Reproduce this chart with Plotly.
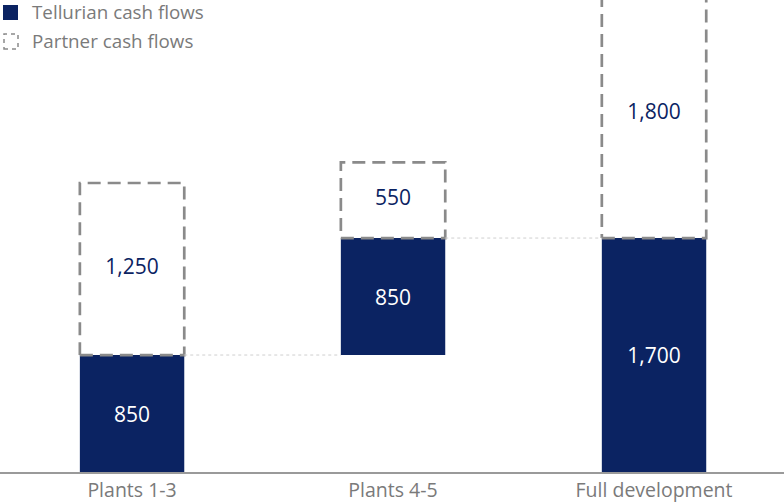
import plotly.graph_objects as go

categories = ["Plants 1-3", "Plants 4-5", "Full development"]
tellurian_base = [0, 850, 0]
tellurian_vals = [850, 850, 1700]
partner_vals = [1250, 550, 1800]
tellurian_labels = ["850", "850", "1,700"]
partner_labels = ["1,250", "550", "1,800"]

NAVY = "#0b2362"
GRAY = "#8a8a8a"
TXT = "#7a7a7a"
FONT = "Open Sans"
W = 0.4

xs = list(range(len(categories)))
partner_base = [b + v for b, v in zip(tellurian_base, tellurian_vals)]

fig = go.Figure()
fig.add_trace(go.Bar(
    x=xs, y=tellurian_vals, base=tellurian_base, width=W,
    marker=dict(color=NAVY, line=dict(width=0)),
    text=tellurian_labels, textposition="inside", insidetextanchor="middle",
    textfont=dict(color="white", size=21, family=FONT),
    showlegend=False, hoverinfo="skip"))

# dashed outlines for partner cash flows
px, py = [], []
for i, (b, v) in enumerate(zip(partner_base, partner_vals)):
    t = b + v
    px += [i - W / 2, i + W / 2, i + W / 2, i - W / 2, i - W / 2, None]
    py += [b, b, t, t, b, None]
fig.add_trace(go.Scatter(x=px, y=py, mode="lines",
                         line=dict(color=GRAY, width=2.7, dash="13px,7px"),
                         showlegend=False, hoverinfo="skip"))
fig.add_trace(go.Scatter(
    x=xs, y=[b + v / 2 for b, v in zip(partner_base, partner_vals)],
    mode="text", text=partner_labels,
    textfont=dict(color=NAVY, size=21, family=FONT),
    showlegend=False, hoverinfo="skip"))

# dotted connectors
for i in range(len(categories) - 1):
    lvl = tellurian_base[i] + tellurian_vals[i]
    fig.add_trace(go.Scatter(x=[i + W / 2, i + 1 - W / 2], y=[lvl, lvl], mode="lines",
                             line=dict(color="#cfcfcf", width=1, dash="dot"),
                             showlegend=False, hoverinfo="skip"))

# legend
fig.add_shape(type="rect", xref="paper", yref="paper",
              x0=3 / 784, x1=18 / 784, y0=1 - 20 / 472, y1=1 - 5 / 472,
              fillcolor=NAVY, line=dict(width=0))
fig.add_shape(type="rect", xref="paper", yref="paper",
              x0=4 / 784, x1=18 / 784, y0=1 - 49 / 472, y1=1 - 34 / 472,
              fillcolor="rgba(0,0,0,0)", line=dict(color=GRAY, width=1.5, dash="4px,4px"))
for lab, yy in [("Tellurian cash flows", 12), ("Partner cash flows", 41)]:
    fig.add_annotation(text=lab, xref="paper", yref="paper", x=30 / 784, y=1 - yy / 472,
                       xanchor="left", yanchor="middle", showarrow=False,
                       font=dict(color=TXT, size=18.8, family=FONT))

fig.update_layout(
    width=784, height=504, margin=dict(l=0, r=0, t=0, b=32, autoexpand=False),
    paper_bgcolor="white", plot_bgcolor="white",
    font=dict(family=FONT, color=TXT),
    xaxis=dict(range=[-0.506, 2.498], tickvals=xs, ticktext=categories,
               automargin=False,
               showgrid=False, zeroline=False, showline=True, linecolor="#9a9a9a",
               linewidth=1.5, ticks="", ticklabelstandoff=0,
               tickfont=dict(size=19.5, color=TXT, family=FONT)),
    yaxis=dict(range=[0, 3430], visible=False, showgrid=False, zeroline=False,
               automargin=False),
)
fig.write_html("out.html")
